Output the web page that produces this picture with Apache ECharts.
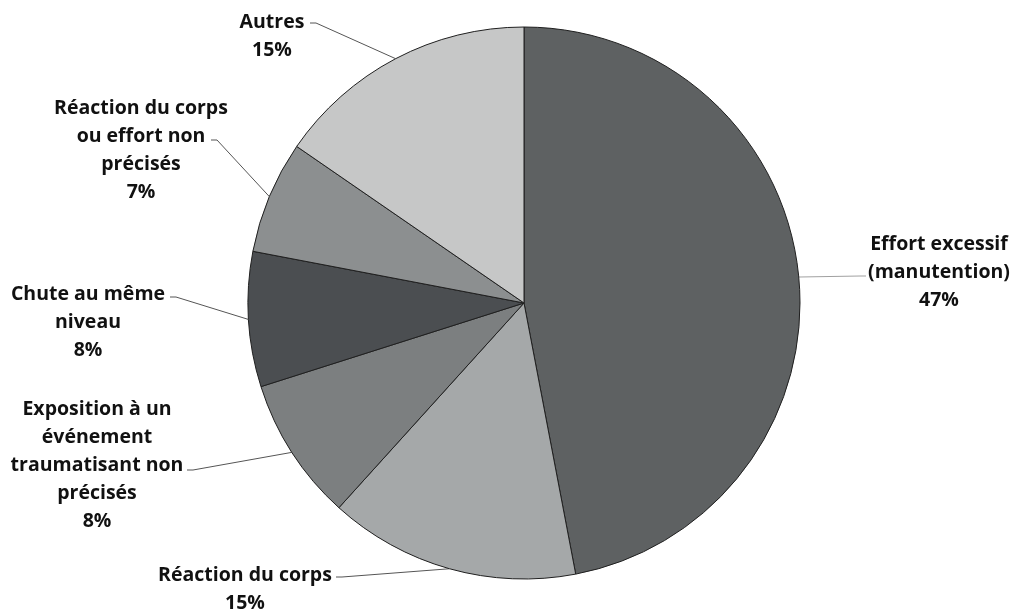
<!DOCTYPE html>
<html><head><meta charset="utf-8">
<script src="https://cdn.jsdelivr.net/npm/echarts@6/dist/echarts.min.js"></script>
<style>html,body{margin:0;padding:0;background:#fff}#c{width:1014px;height:611px}</style>
</head><body><div id="c"></div>
<script>
var categories = ['Effort excessif\n(manutention)', 'Réaction du corps', 'Exposition à un\névénement\ntraumatisant non\nprécisés', 'Chute au même\nniveau', 'Réaction du corps\nou effort non\nprécisés', 'Autres'];
var values = [47, 14.7, 8.4, 7.9, 6.6, 15.4];
var percentLabels = ['47%', '15%', '8%', '8%', '7%', '15%'];
var colors = ['#5e6162', '#a5a8a9', '#7c7f80', '#4b4e51', '#8c8f90', '#c6c7c7'];
// label layout: [centerX, centerY, lineEndX, lineEndY]
var labelPos = [
  [939, 272, 866, 276],
  [245, 589, 336, 577],
  [97, 465, 187, 470],
  [88, 322, 170, 297],
  [141, 150, 211, 140],
  [272, 36, 310, 23]
];
var lineColors = ['#a0a0a0', '#555', '#555', '#555', '#555', '#555'];

var data = categories.map(function (c, i) {
  return {
    name: c, value: values[i],
    itemStyle: {color: colors[i]},
    labelLine: {lineStyle: {color: lineColors[i], width: 1}},
    label: {formatter: c + '\n' + percentLabels[i]}
  };
});

var chart = echarts.init(document.getElementById('c'));
chart.setOption({
  animation: false,
  series: [{
    type: 'pie',
    center: [524, 303],
    radius: 276,
    startAngle: 90,
    clockwise: true,
    data: data,
    itemStyle: {borderColor: '#1f1f1f', borderWidth: 1},
    label: {
      show: true, position: 'outside',
      fontFamily: 'Open Sans', fontWeight: 'bold', fontSize: 19.5,
      lineHeight: 28, color: '#111', align: 'center'
    },
    labelLine: {show: true, length: 20, length2: 20, smooth: false},
    labelLayout: function (p) {
      var lp = labelPos[p.dataIndex];
      var start = p.labelLinePoints ? p.labelLinePoints[0] : [lp[2], lp[3]];
      var dir = lp[2] > start[0] ? -1 : 1;
      return {
        x: lp[0], y: lp[1], align: 'center', verticalAlign: 'middle',
        labelLinePoints: [start, [lp[2] + dir * 6, lp[3]], [lp[2], lp[3]]]
      };
    }
  }]
});
</script></body></html>
